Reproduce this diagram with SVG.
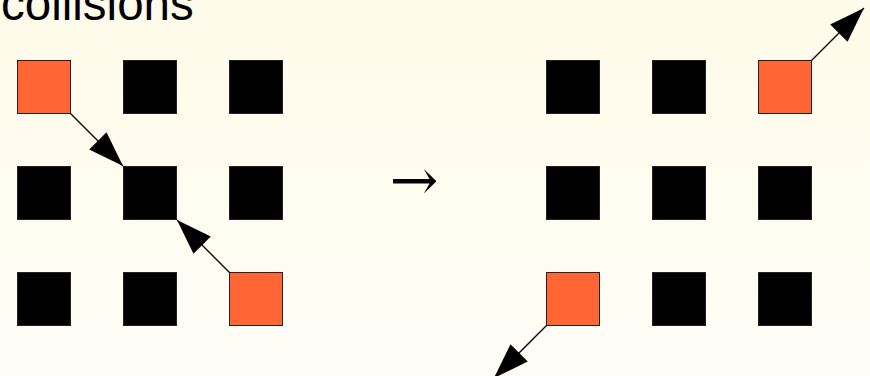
<svg xmlns="http://www.w3.org/2000/svg" width="870" height="376" viewBox="0 0 870 376">
  <defs>
    <linearGradient id="bg" x1="0" y1="0" x2="0" y2="1">
      <stop offset="0" stop-color="#fffbea"/>
      <stop offset="1" stop-color="#fffdf6"/>
    </linearGradient>
    <marker id="ah" markerUnits="userSpaceOnUse" markerWidth="40" markerHeight="30" viewBox="-34 -13 36 26" refX="0" refY="0" orient="auto">
      <path d="M0,0 L-32,-11 L-32,11 Z" fill="#000"/>
    </marker>
  </defs>
  <style>
    .sq { stroke: #222; stroke-width: 1; }
    .blk { fill: #000; }
    .org { fill: #ff6633; }
    .lbl { font-family: "Liberation Sans", Arial, sans-serif; fill: #000; }
    .con { stroke: #000; stroke-width: 1.3; fill: none; marker-end: url(#ah); }
  </style>
  <rect x="0" y="0" width="870" height="376" fill="url(#bg)"/>
  <text class="lbl" x="1" y="20" font-size="47.5">collisions</text>
  <g id="left-grid">
    <g id="L11"><rect class="sq org" x="17.5" y="60.5" width="53" height="53"/></g>
    <g id="L12"><rect class="sq blk" x="123.5" y="60.5" width="53" height="53"/></g>
    <g id="L13"><rect class="sq blk" x="229.5" y="60.5" width="53" height="53"/></g>
    <g id="L21"><rect class="sq blk" x="17.5" y="166.5" width="53" height="53"/></g>
    <g id="L22"><rect class="sq blk" x="123.5" y="166.5" width="53" height="53"/></g>
    <g id="L23"><rect class="sq blk" x="229.5" y="166.5" width="53" height="53"/></g>
    <g id="L31"><rect class="sq blk" x="17.5" y="272.5" width="53" height="53"/></g>
    <g id="L32"><rect class="sq blk" x="123.5" y="272.5" width="53" height="53"/></g>
    <g id="L33"><rect class="sq org" x="229.5" y="272.5" width="53" height="53"/></g>
  </g>
  <g id="transition">
    <text x="414" y="200" font-size="58" text-anchor="middle" font-family="'DejaVu Serif', 'Liberation Serif', serif">→</text>
  </g>
  <g id="right-grid">
    <g id="R11"><rect class="sq blk" x="546.5" y="60.5" width="53" height="53"/></g>
    <g id="R12"><rect class="sq blk" x="652.5" y="60.5" width="53" height="53"/></g>
    <g id="R13"><rect class="sq org" x="758.5" y="60.5" width="53" height="53"/></g>
    <g id="R21"><rect class="sq blk" x="546.5" y="166.5" width="53" height="53"/></g>
    <g id="R22"><rect class="sq blk" x="652.5" y="166.5" width="53" height="53"/></g>
    <g id="R23"><rect class="sq blk" x="758.5" y="166.5" width="53" height="53"/></g>
    <g id="R31"><rect class="sq org" x="546.5" y="272.5" width="53" height="53"/></g>
    <g id="R32"><rect class="sq blk" x="652.5" y="272.5" width="53" height="53"/></g>
    <g id="R33"><rect class="sq blk" x="758.5" y="272.5" width="53" height="53"/></g>
  </g>
  <g id="connectors">
    <line class="con" x1="70.5" y1="113.5" x2="123" y2="166"/>
    <line class="con" x1="229.5" y1="272.5" x2="177" y2="220"/>
    <line class="con" x1="811.5" y1="60.5" x2="864" y2="8"/>
    <line class="con" x1="546.5" y1="325.5" x2="494" y2="378"/>
  </g>
</svg>
